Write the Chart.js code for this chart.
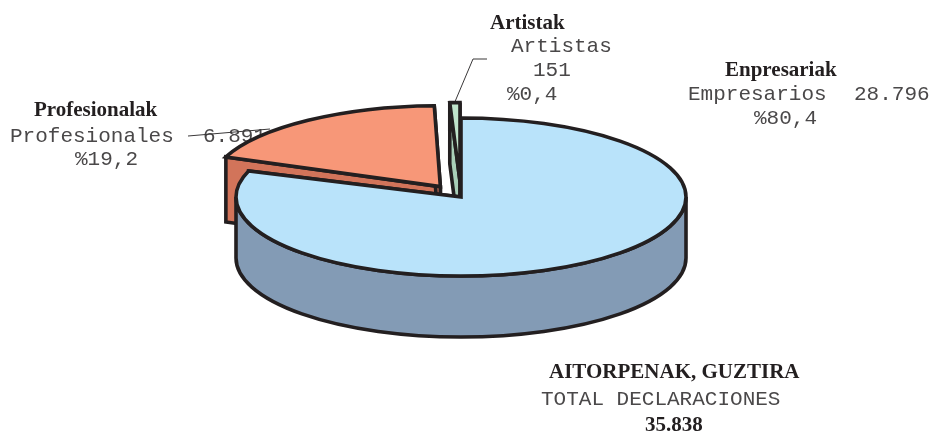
<!DOCTYPE html>
<html><head><meta charset="utf-8">
<style>html,body{margin:0;padding:0;background:#fff}canvas{display:block}</style>
<script src="https://cdn.jsdelivr.net/npm/chart.js@4"></script></head>
<body><canvas id="c" width="930" height="432"></canvas>
<script>
const categories = ["Enpresariak / Empresarios", "Profesionalak / Profesionales", "Artistak / Artistas"];
const declarations = [28796, 6891, 151];
const topColors = ["#b9e3fa", "#f79778", "#bfe3cb"];
const wallColors = ["#839bb5", "#d2745a", "#a9cfb8"];
const explode = [0, 36, 44];
const radiusScale = [1, 1.025, 1];
const startWiden = [0, -0.04, 0.019];
const wallDepth = [61, 65, 61];

const SERIF_B = 'bold 21px "Liberation Serif"';
const MONO = '21px "Liberation Mono"';
const textItems = [
  ["Profesionalak", 34, 116, SERIF_B], ["Profesionales", 10, 142, MONO], ["6.891", 203, 142, MONO], ["%19,2", 75, 165, MONO],
  ["Artistak", 490, 29, SERIF_B], ["Artistas", 511, 52, MONO], ["151", 533, 76, MONO], ["%0,4", 507, 100, MONO],
  ["Enpresariak", 725, 76, SERIF_B], ["Empresarios", 688, 100, MONO], ["28.796", 854, 100, MONO], ["%80,4", 754, 124, MONO],
  ["AITORPENAK, GUZTIRA", 549, 378, SERIF_B], ["TOTAL DECLARACIONES", 541, 405, MONO], ["35.838", 645, 431, SERIF_B]
];
const K = 0.351, INK = "#231f20";

const pie3d = {
  id: "pie3d",
  beforeDatasetsDraw(chart) {
    const ctx = chart.ctx;
    ctx.save();
    ctx.textBaseline = "alphabetic";
    textItems.forEach(([t, x, y, f]) => {
      ctx.font = f;
      ctx.fillStyle = f === MONO ? "#4a4849" : INK;
      ctx.fillText(t, x, y);
    });
    ctx.strokeStyle = "#3a3839"; ctx.lineWidth = 1;
    ctx.beginPath(); ctx.moveTo(188, 136); ctx.lineTo(270, 129); ctx.stroke();
    ctx.beginPath(); ctx.moveTo(454, 104); ctx.lineTo(473, 59); ctx.lineTo(487, 59); ctx.stroke();

    ctx.lineWidth = 3.6; ctx.strokeStyle = INK; ctx.lineJoin = "miter"; ctx.miterLimit = 6;
    const arcs = chart.getDatasetMeta(0).data;
    [2, 1, 0].forEach(i => {
      const a = arcs[i];
      const p = a.getProps(["x", "y", "startAngle", "endAngle", "outerRadius"]);
      const s = p.startAngle - startWiden[i], e = p.endAngle, R = p.outerRadius * radiusScale[i];
      const DEPTH = wallDepth[i];
      const mid = (s + e) / 2, off = a.options.offset || 0;
      const cx = p.x + Math.cos(mid) * off, cy = p.y + Math.sin(mid) * off * K;
      const px = t => cx + Math.cos(t) * R, py = t => cy + Math.sin(t) * R * K;
      ctx.fillStyle = wallColors[i];
      [s, e].forEach(t => {
        ctx.beginPath();
        ctx.moveTo(cx, cy); ctx.lineTo(px(t), py(t));
        ctx.lineTo(px(t), py(t) + DEPTH); ctx.lineTo(cx, cy + DEPTH); ctx.closePath();
        ctx.fill(); ctx.stroke();
      });
      const segs = [[s, e], [s + 2 * Math.PI, e + 2 * Math.PI], [s - 2 * Math.PI, e - 2 * Math.PI]];
      segs.forEach(([u, v]) => {
        const lo = Math.max(u, 0), hi = Math.min(v, Math.PI);
        if (hi <= lo) return;
        ctx.beginPath();
        ctx.ellipse(cx, cy, R, R * K, 0, lo, hi);
        ctx.ellipse(cx, cy + DEPTH, R, R * K, 0, hi, lo, true);
        ctx.closePath();
        ctx.fill(); ctx.stroke();
      });
      ctx.fillStyle = a.options.backgroundColor;
      ctx.beginPath();
      ctx.moveTo(cx, cy);
      ctx.ellipse(cx, cy, R, R * K, 0, s, e);
      ctx.closePath();
      ctx.fill(); ctx.stroke();
    });
    ctx.restore();
    return false;
  }
};

new Chart(document.getElementById("c"), {
  type: "pie",
  data: { labels: categories, datasets: [{ data: declarations, backgroundColor: topColors, offset: explode, borderWidth: 0 }] },
  options: {
    responsive: false, animation: false, radius: 225,
    layout: { padding: { right: 8, bottom: 38 } },
    plugins: { legend: { display: false }, tooltip: { enabled: false } }
  },
  plugins: [pie3d]
});
</script></body></html>
